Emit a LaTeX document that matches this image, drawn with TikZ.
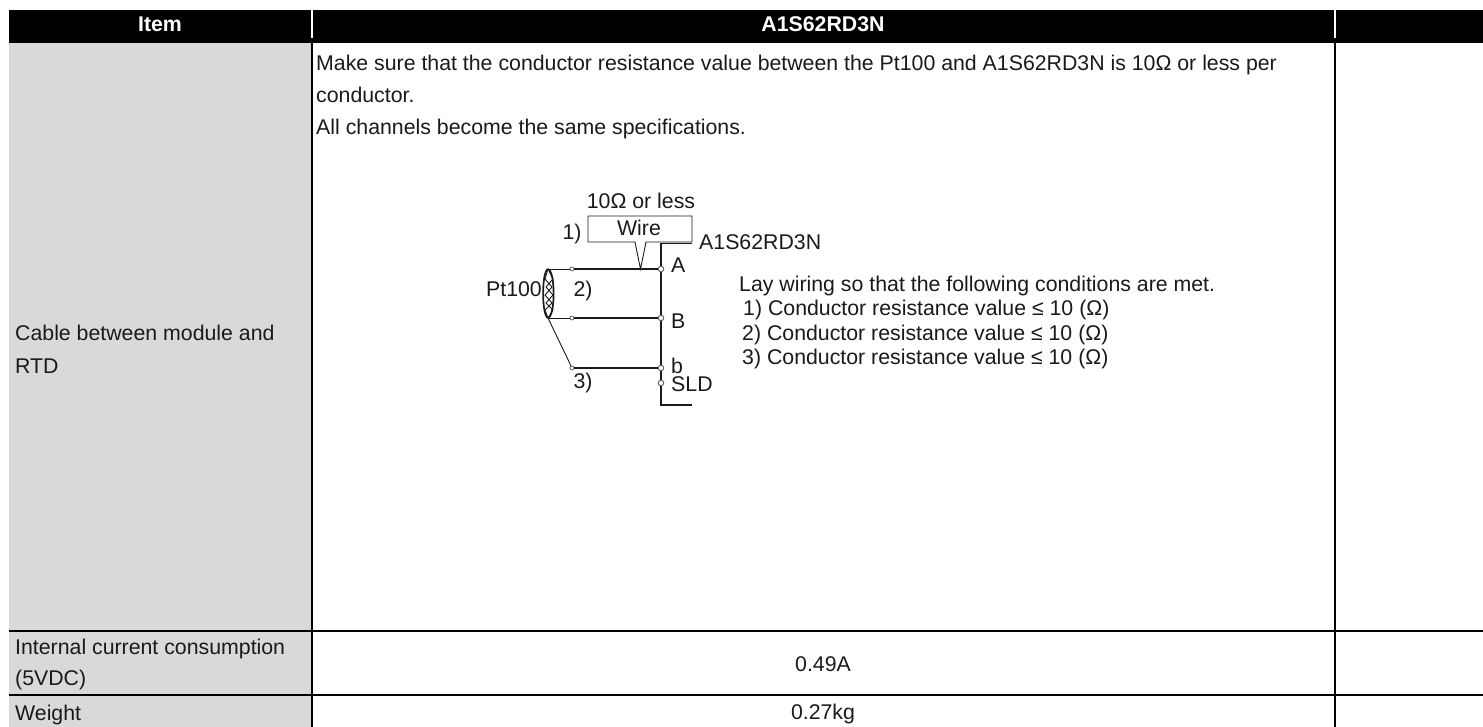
\documentclass[tikz,border=0pt]{standalone}
\usepackage{fontspec}
\setmainfont{Liberation Sans}
\definecolor{ink}{HTML}{1A1A1A}
\definecolor{cellgray}{HTML}{D9D9D9}
\tikzset{
  x=1pt,y=-1pt,
  txt/.style={inner sep=0pt,font=\fontsize{21.3}{25}\selectfont,text=ink},
  hdr/.style={inner sep=0pt,font=\fontsize{21.3}{25}\selectfont\bfseries,text=white},
  rule/.style={line width=1.7pt,black},
  thinwire/.style={line width=0.9pt,ink},
  heavywire/.style={line width=2.3pt,ink},
  term/.style={circle,draw=black!60,fill=white,line width=1pt,minimum size=5.5pt,inner sep=0pt},
  lterm/.style={circle,draw=black!60,fill=white,line width=0.8pt,minimum size=4pt,inner sep=0pt},
}
\begin{document}
\begin{tikzpicture}
\useasboundingbox (0,0) rectangle (1483,727);
\fill[black] (9,10) rectangle (1483,43);
\fill[cellgray] (9,43) rectangle (311,727);
\draw[white,line width=1.7pt] (312,10) -- (312,38);
\draw[white,line width=1.7pt] (1335,10) -- (1335,38);
\draw[rule] (312,43) -- (312,727);
\draw[rule] (1335,43) -- (1335,727);
\draw[rule] (9,631) -- (1483,631);
\draw[rule] (9,695) -- (1483,695);
\node[hdr,anchor=base] (h1) at (160,32) {Item};
\node[hdr,anchor=base] (h2) at (823,32) {A1S62RD3N};
\node[txt,anchor=base west] (p1) at (316,71) {Make sure that the conductor resistance value between the Pt100 and A1S62RD3N is 10Ω or less per};
\node[txt,anchor=base west] (p2) at (316,103) {conductor.};
\node[txt,anchor=base west] (p3) at (316,135) {All channels become the same specifications.};
\node[txt,anchor=base west] (c1) at (15,341) {Cable between module and};
\node[txt,anchor=base west] (c2) at (15,373) {RTD};
\node[txt,anchor=base west] (i1) at (15,654) {Internal current consumption};
\node[txt,anchor=base west] (i2) at (15,685) {(5VDC)};
\node[txt,anchor=base west] (w1) at (15,720) {Weight};
\node[txt,anchor=base] (v1) at (823,671) {0.49A};
\node[txt,anchor=base] (v2) at (823,719) {0.27kg};
\node[txt,anchor=base] (ohm) at (641,209) {10Ω or less};
\node[txt,anchor=base] (wirelbl) at (639,236) {Wire};
\node[txt,anchor=base] (one) at (572,240) {1)};
\node[txt,anchor=base] (two) at (583,297) {2)};
\node[txt,anchor=base] (three) at (583,388) {3)};
\node[txt,anchor=base east] (pt) at (542,297) {Pt100};
\node[txt,anchor=base west] (mod) at (699,250) {A1S62RD3N};
\node[txt,anchor=base west] (la) at (671,273) {A};
\node[txt,anchor=base west] (lb) at (671,328) {B};
\node[txt,anchor=base west] (lbb) at (671,373) {b};
\node[txt,anchor=base west] (lsld) at (671,391) {SLD};
\node[txt,anchor=base west] (n0) at (739,292) {Lay wiring so that the following conditions are met.};
\node[txt,anchor=base west] (n1) at (743,316) {1) Conductor resistance value ≤ 10 (Ω)};
\node[txt,anchor=base west] (n2) at (742,340) {2) Conductor resistance value ≤ 10 (Ω)};
\node[txt,anchor=base west] (n3) at (742,364) {3) Conductor resistance value ≤ 10 (Ω)};
% wire box with callout
\draw[thinwire,line join=miter] (635,242) -- (588,242) -- (588,216) -- (692,216) -- (692,242) -- (646,242) -- (640.5,269) -- cycle;
\fill[white] (636.5,241) rectangle (644.5,243.5);
% terminal bus
\draw[line width=1.9pt,ink] (692,243.5) -- (661,243.5) -- (661,405) -- (692,405);
\node[term] (ta) at (661,269) {};
\node[term] (tb) at (661,318) {};
\node[term] (tbb) at (661,368) {};
\node[term] (ts) at (661,383) {};
\node[lterm] (la0) at (572,269) {};
\node[lterm] (lb0) at (572,318) {};
\node[lterm] (lc0) at (572,368) {};
\draw[heavywire] (la0) -- (ta);
\draw[heavywire] (lb0) -- (tb);
\draw[heavywire] (lc0) -- (tbb);
% Pt100 cable
\coordinate (ctop) at (548,269);
\coordinate (cbot) at (548,318);
\draw[thinwire] (la0) -- (ctop);
\draw[thinwire] (lb0) -- (cbot);
\draw[thinwire] (lc0) -- (cbot);
\draw[line width=0.9pt,ink] (ctop) -- (553,279) -- (546,287) -- (553,295) -- (546,303) -- (553,310) -- (cbot);
\draw[line width=0.9pt,ink] (ctop) -- (545,279) -- (552,287) -- (545,295) -- (552,303) -- (545,310) -- (cbot);
\draw[line width=1.7pt,ink] (ctop) .. controls (541.5,271) and (541.5,316) .. (cbot);
\draw[line width=1.7pt,ink] (ctop) .. controls (555.5,271) and (555.5,316) .. (cbot);
\end{tikzpicture}
\end{document}
